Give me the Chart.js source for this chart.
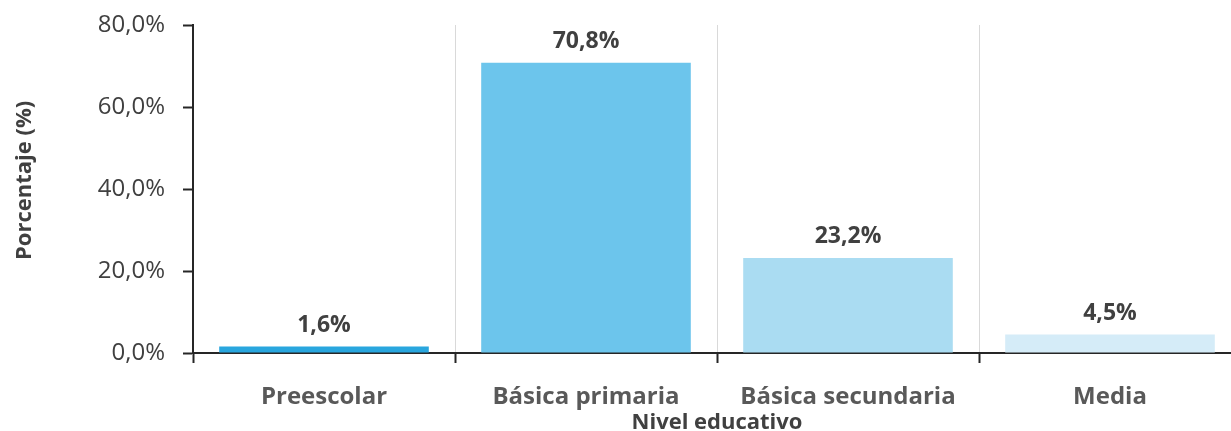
<!DOCTYPE html>
<html lang="es">
<head>
  <meta charset="UTF-8" />
  <title>Nivel educativo</title>
  <script src="https://cdn.jsdelivr.net/npm/chart.js"></script>
  <style>
    body { margin: 0; background: #fff; overflow: hidden; }
    #wrap { width: 1231px; height: 431px; overflow: hidden; }
    canvas { display: block; }
  </style>
</head>
<body>
  <div id="wrap">
    <!-- plot runs a little past the right edge, as in the original image -->
    <canvas id="chart" width="1241" height="431"></canvas>
  </div>

  <script>
    // data
    const niveles = ['Preescolar', 'Básica primaria', 'Básica secundaria', 'Media'];
    const porcentajes = [1.6, 70.8, 23.2, 4.5];
    const colores = ['#29a6de', '#6cc5ec', '#aadcf2', '#d5ecf8'];
    const yTicks = [0, 20, 40, 60, 80];

    const fmt = v => v.toFixed(1).replace('.', ',') + '%';
    const FONT = "'Open Sans', 'Noto Sans', sans-serif";

    // value labels above the bars
    const barLabels = {
      id: 'barLabels',
      afterDatasetsDraw(chart) {
        const ctx = chart.ctx;
        const meta = chart.getDatasetMeta(0);
        ctx.save();
        ctx.font = 'bold 23px ' + FONT;
        ctx.fillStyle = '#404040';
        ctx.textAlign = 'center';
        ctx.textBaseline = 'middle';
        meta.data.forEach((bar, i) => {
          ctx.fillText(fmt(porcentajes[i]), bar.x, bar.y - 21);
        });
        ctx.restore();
      }
    };

    new Chart(document.getElementById('chart').getContext('2d'), {
      type: 'bar',
      data: {
        labels: niveles,
        datasets: [{
          data: porcentajes,
          backgroundColor: colores,
          categoryPercentage: 1,
          barPercentage: 0.8
        }]
      },
      options: {
        responsive: false,
        animation: false,
        layout: { padding: { top: 25, right: 0, bottom: 0, left: 0 } },
        plugins: { legend: { display: false }, tooltip: { enabled: false } },
        scales: {
          x: {
            offset: true,
            grid: {
              offset: true,
              color: c => c.tick ? '#d9d9d9' : 'transparent',
              tickColor: c => c.tick ? '#262626' : 'transparent',
              tickLength: 10,
              tickWidth: 2
            },
            border: { color: '#262626', width: 2 },
            ticks: {
              color: '#595959',
              font: { family: FONT, size: 24, weight: 'bold' },
              padding: 20
            },
            title: {
              display: true,
              text: 'Nivel educativo',
              color: '#404040',
              font: { family: FONT, size: 22, weight: 'bold', lineHeight: 0.75 },
              padding: { top: 0, bottom: 0 }
            },
            afterFit: s => { s.height = 78; }
          },
          y: {
            min: 0,
            max: 80,
            afterBuildTicks: s => { s.ticks = yTicks.map(v => ({ value: v })); },
            grid: {
              drawOnChartArea: false,
              tickColor: '#262626',
              tickLength: 10,
              tickWidth: 2
            },
            border: { color: '#262626', width: 2 },
            ticks: {
              color: '#404040',
              font: { family: FONT, size: 24 },
              padding: 18,
              callback: v => fmt(v)
            },
            title: {
              display: true,
              // leading spaces nudge the rotated title up like the original
              text: '   Porcentaje (%)',
              color: '#404040',
              font: { family: FONT, size: 22, weight: 'bold', lineHeight: 1.2 },
              padding: { top: 12, bottom: 0 }
            },
            afterFit: s => { s.width = 193; s.paddingTop = 0; s.paddingBottom = 0; }
          }
        }
      },
      plugins: [barLabels]
    });
  </script>
</body>
</html>
